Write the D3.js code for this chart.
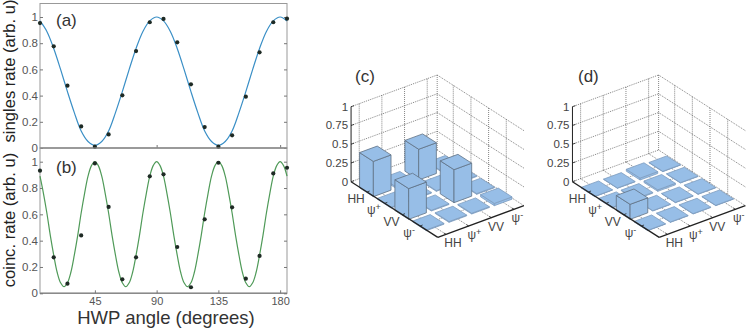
<!DOCTYPE html>
<html>
<head>
<meta charset="utf-8">
<script src="https://cdn.jsdelivr.net/npm/d3@7"></script>
<style>
  html, body { margin: 0; padding: 0; background: #fff; }
  svg { display: block; font-family: "Liberation Sans", Arial, sans-serif; }
</style>
</head>
<body>
<svg id="chart" width="748" height="329"></svg>
<script>
// measured points, 5 to 185 degrees every 10
const pointAngles = [5, 15, 25, 35, 45, 55, 65, 75, 85, 95, 105, 115, 125, 135, 145, 155, 165, 175, 185]
const singlesPoints = [.954, .776, .476, .165, .01, .104, .402, .74, .96, .985, .807, .486, .16, .01, .097, .392, .73, .96, .987]
const coincPoints = [.932, .273, .073, .44, .987, .656, .106, .273, .889, .904, .352, .046, .562, .992, .653, .111, .284, .911, .954]

// fitted curves
const singlesCurve = [.97, .89, .76, .60, .43, .27, .13, .05, .02, .05, .13, .27, .43, .60, .76, .89, .97, 1,
    .97, .89, .76, .60, .43, .27, .13, .05, .02, .05, .13, .27, .43, .60, .76, .89, .97, 1, .97]
const coincCurve = [.89, .76, .61, .44, .29, .16, .08, .05, .08, .16, .29, .44, .61, .76, .89, .97, 1, .97,
    .89, .76, .61, .44, .29, .16, .08, .05, .08, .16, .29, .44, .61, .76, .89, .97, 1, .97,
    .89, .76, .61, .44, .29, .16, .08, .05, .08, .16, .29, .44, .61, .76, .89, .97, 1, .97,
    .89, .76, .61, .44, .29, .16, .08, .05, .08, .16, .29, .44, .61, .76, .89, .97, 1, .97, .89]

const xTicks = [45, 90, 135, 180]
const yTicks = [0, 0.2, 0.4, 0.6, 0.8, 1]

const basis = ['HH', 'ψ', 'VV', 'ψ']
const basisSign = ['', '+', '', '-']
const zTicks = [0, 0.25, 0.5, 0.75, 1]
const densityC = [
    [.47, .02, .41, .01],
    [.01, .01, .01, .01],
    [.41, .01, .44, .01],
    [.01, .01, .01, .03]
]
const densityD = [
    [.005, .005, .025, .005],
    [.01, .01, .02, .005],
    [.2, .005, .005, .005],
    [.005, .005, .005, .005]
]

const svg = d3.select('#chart')
const x = d3.scaleLinear().domain([5, 185]).range([40, 287])

function linePanel(top, y0, y1, curve, step, points, color, label, labelY, yLabel, yLabelMid, showX) {
    const y = d3.scaleLinear().domain([0, 1]).range([y0, y1])
    const g = svg.append('g')

    g.append('rect').attr('x', 40).attr('y', top).attr('width', 247).attr('height', y0 - top)
        .attr('fill', 'none').attr('stroke', '#999').attr('stroke-width', 1)
    g.append('line').attr('x1', 40).attr('x2', 287).attr('y1', y0).attr('y2', y0)
        .attr('stroke', '#8a8a8a').attr('stroke-width', 1.5)

    const left = g.append('g').attr('transform', 'translate(40,0)')
        .call(d3.axisLeft(y).tickValues(yTicks).tickSize(-3).tickPadding(2).tickFormat(d => d))
    left.select('.domain').remove()
    left.selectAll('line').attr('stroke', '#777')
    left.selectAll('text').attr('fill', '#555').style('font-size', '11.5px')

    const right = g.append('g').attr('transform', 'translate(287,0)')
        .call(d3.axisRight(y).tickValues(yTicks).tickSize(-3).tickFormat(''))
    right.select('.domain').remove()
    right.selectAll('line').attr('stroke', '#777')

    const bottom = g.append('g').attr('transform', `translate(0,${y0})`)
        .call(d3.axisBottom(x).tickValues(xTicks).tickSize(-3).tickPadding(4).tickFormat(showX ? (d => d) : ''))
    bottom.select('.domain').remove()
    bottom.selectAll('line').attr('stroke', '#777')
    bottom.selectAll('text').attr('fill', '#555').style('font-size', '11px')

    const line = d3.line().x((d, i) => x(5 + i * step)).y(d => y(d)).curve(d3.curveCatmullRom)
    g.append('path').attr('d', line(curve)).attr('fill', 'none').attr('stroke', color).attr('stroke-width', 1.2)

    g.selectAll('circle').data(points).enter().append('circle')
        .attr('cx', (d, i) => x(pointAngles[i])).attr('cy', d => y(d)).attr('r', 2.1).attr('fill', '#1e2a24')

    g.append('text').attr('x', 56).attr('y', labelY).attr('fill', '#333').style('font-size', '17px').text(label)
    g.append('text').attr('transform', `translate(15,${yLabelMid}) rotate(-90)`).attr('text-anchor', 'middle')
        .attr('fill', '#222').style('font-size', '16.6px').text(yLabel)
}

linePanel(3.5, 148, 17, singlesCurve, 5, singlesPoints, '#3a8fc6', '(a)', 26, 'singles rate (arb. u)', 71, false)
linePanel(148, 293.3, 161.7, coincCurve, 2.5, coincPoints, '#4f9a58', '(b)', 173, 'coinc. rate (arb. u)', 220, true)

svg.append('text').attr('x', 166).attr('y', 323.5).attr('text-anchor', 'middle').attr('fill', '#333')
    .style('font-size', '18.5px').text('HWP angle (degrees)')

function barPanel(ox, oy, density, label, labelX) {
    // oblique projection built from one scale per screen direction
    const rowX = d3.scaleLinear().domain([0, 3]).range([0, 53])
    const rowY = d3.scaleLinear().domain([0, 3]).range([0, 34])
    const colX = d3.scaleLinear().domain([0, 3]).range([0, 68])
    const colY = d3.scaleLinear().domain([0, 3]).range([0, -25])
    const zY = d3.scaleLinear().domain([0, 1]).range([0, -75])
    const px = (u, v) => ox + rowX(u) + colX(v)
    const py = (u, v, z) => oy + rowY(u) + colY(v) + zY(z || 0)
    const pt = (u, v, z) => [px(u, v), py(u, v, z)]

    const uMin = -.91, uMax = 4, vMin = -.36, vMax = 3.44
    const g = svg.append('g')
    const poly = d3.line()

    const dotted = (a, b) => g.append('path').attr('d', poly([a, b])).attr('fill', 'none')
        .attr('stroke', '#666').attr('stroke-width', .8).attr('stroke-dasharray', '1,1')

    zTicks.forEach(z => {
        dotted(pt(uMin, vMin, z), pt(uMin, vMax, z))
        dotted(pt(uMin, vMax, z), pt(uMax, vMax, z))
    })
    d3.range(4).forEach(k => {
        dotted(pt(uMin, k, 0), pt(uMin, k, 1))
        dotted(pt(k, vMax, 0), pt(k, vMax, 1))
        dotted(pt(k, vMin, 0), pt(k, vMax, 0))
        dotted(pt(uMin, k, 0), pt(uMax, k, 0))
    })
    dotted(pt(uMin, vMax, 0), pt(uMin, vMax, 1))

    const half = .39
    d3.range(4).forEach(i => {
        d3.range(3, -1, -1).forEach(j => {
            const h = density[i][j]
            const a = pt(i - half, j - half, h), b = pt(i + half, j - half, h)
            const c = pt(i + half, j + half, h), d = pt(i - half, j + half, h)
            const a0 = pt(i - half, j - half, 0), b0 = pt(i + half, j - half, 0), c0 = pt(i + half, j + half, 0)
            const faces = [[a, b, b0, a0], [b, c, c0, b0], [a, b, c, d]]
            faces.forEach(f => {
                g.append('path').attr('d', poly(f) + 'Z').attr('fill', '#97bee7')
                    .attr('stroke', h > .1 ? '#5f7184' : '#7f9dbf').attr('stroke-width', .8).attr('stroke-linejoin', 'round')
            })
        })
    })

    // solid axes
    const solid = (a, b, w) => g.append('path').attr('d', poly([a, b])).attr('stroke', '#222').attr('stroke-width', w).attr('fill', 'none')
    solid(pt(uMin, vMin, 0), pt(uMin, vMin, 1), 1)
    solid(pt(uMin, vMin, 0), pt(uMax, vMin, 0), 1.3)
    solid(pt(uMax, vMin, 0), pt(uMax, vMax, 0), 1.3)

    zTicks.forEach(z => {
        const p = pt(uMin, vMin, z)
        solid(p, [p[0] + 3, p[1] - 1], .8)
        g.append('text').attr('x', p[0] - 3).attr('y', p[1] + 4).attr('text-anchor', 'end')
            .attr('fill', '#444').style('font-size', '11.5px').text(z)
    })

    const tickLabel = (xp, yp, i) => {
        const t = g.append('text').attr('x', xp).attr('y', yp).attr('text-anchor', 'middle')
            .attr('fill', '#444').style('font-size', '12px').text(basis[i])
        if (basisSign[i]) t.append('tspan').attr('dy', -4).style('font-size', '9px').text(basisSign[i])
    }
    d3.range(4).forEach(i => {
        const p = pt(i, vMin, 0)
        solid(p, [p[0] + 2.5, p[1] - 1], .8)
        tickLabel(p[0] - 11, p[1] + 11, i)
        const q = pt(uMax, i, 0)
        solid(q, [q[0] - 2, q[1] - 1.3], .8)
        tickLabel(q[0] + 7 - i * 1.2, q[1] + 13, i)
    })

    g.append('text').attr('x', labelX).attr('y', 82).attr('fill', '#333').style('font-size', '17px').text(label)
}

barPanel(375.3, 189, densityC, '(c)', 355)
barPanel(596.7, 189, densityD, '(d)', 578)
</script>
</body>
</html>
